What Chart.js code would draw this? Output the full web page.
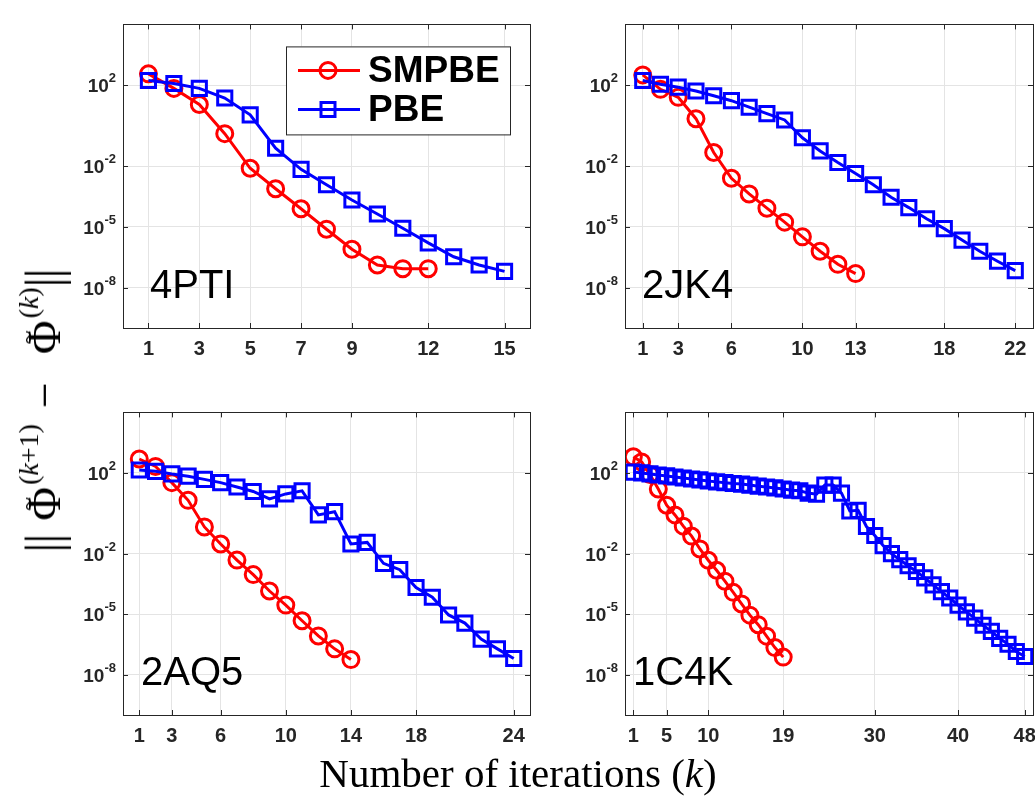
<!DOCTYPE html>
<html>
<head>
<meta charset="utf-8">
<script src="https://cdn.jsdelivr.net/npm/chart.js@4.4.1/dist/chart.umd.min.js"></script>
<style>
html, body { margin: 0; padding: 0; background: #fff; width: 1035px; height: 799px; overflow: hidden; }
canvas { position: absolute; }
#xtitle { position: absolute; left: 518px; top: 753px; transform: translateX(-50%); font: 41px "Liberation Serif", serif; line-height: 41px; white-space: nowrap; color: #000; }
#ytitle { position: absolute; left: 37px; top: 411px; transform: translate(-50%, -50%) rotate(-90deg); font: 46px "Liberation Serif", serif; line-height: 46px; white-space: nowrap; color: #000; }
#ytitle .nb { font-size: 50px; letter-spacing: -1px; }
#ytitle .phi { position: relative; display: inline-block; margin-left: 14px; }
#ytitle .tl { position: absolute; left: 0; width: 100%; text-align: center; top: -17px; font-size: 26px; }
#ytitle .sp { font-size: 28px; vertical-align: 22px; margin-left: 2px; }
#ytitle .mn { margin: 0 14px 0 16px; }
</style>
</head>
<body>
<canvas id="c4PTI"></canvas>
<canvas id="c2JK4"></canvas>
<canvas id="c2AQ5"></canvas>
<canvas id="c1C4K"></canvas>
<div id="xtitle">Number of iterations (<i>k</i>)</div>
<div id="ytitle"><span class="nb">||</span><span class="phi">Φ<span class="tl">~</span></span><span class="sp">(<i>k</i>+1)</span><span class="mn">−</span><span class="phi">Φ<span class="tl">~</span></span><span class="sp">(<i>k</i>)</span><span class="nb">||</span></div>
<script>
// y ticks shared by every panel (10^exp)
const yTicks = [1e2, 1e-2, 1e-5, 1e-8];
const yTickExp = ['2', '-2', '-5', '-8'];

// 4PTI
const ticks4PTI = [1, 3, 5, 7, 9, 12, 15];
const smpbe4PTI = [3.6e2, 6.9e1, 1.1e1, 4.0e-1, 7.8e-3, 7.6e-4, 7.8e-5, 7.6e-6, 7.8e-7, 1.3e-7, 8.5e-8, 8.5e-8];
const pbe4PTI = [1.7e2, 1.2e2, 6.9e1, 2.3e1, 3.4e0, 7.6e-2, 6.9e-3, 1.2e-3, 2.1e-4, 4.3e-5, 8.5e-6, 1.6e-6, 3.3e-7, 1.3e-7, 6.3e-8];

// 2JK4
const ticks2JK4 = [1, 3, 6, 10, 13, 18, 22];
const smpbe2JK4 = [3.2e2, 6.2e1, 2.5e1, 2.2e0, 4.7e-2, 2.5e-3, 4.2e-4, 8.3e-5, 1.7e-5, 3.2e-6, 6.2e-7, 1.4e-7, 4.9e-8];
const pbe2JK4 = [1.7e2, 1.1e2, 7.9e1, 5.1e1, 3.0e1, 1.7e1, 8.1e0, 3.9e0, 1.9e0, 2.5e-1, 5.6e-2, 1.5e-2, 4.3e-3, 1.2e-3, 2.9e-4, 8.9e-5, 2.5e-5, 8.1e-6, 2.2e-6, 6.2e-7, 2.0e-7, 6.8e-8];

// 2AQ5
const ticks2AQ5 = [1, 3, 6, 10, 14, 18, 24];
const smpbe2AQ5 = [4.9e2, 2.1e2, 3.3e1, 4.4e0, 2.1e-1, 3.0e-2, 4.8e-3, 9.1e-4, 1.4e-4, 2.8e-5, 4.7e-6, 8.3e-7, 1.9e-7, 5.6e-8];
const pbe2AQ5 = [1.4e2, 1.2e2, 8.9e1, 6.9e1, 4.8e1, 3.3e1, 2.0e1, 1.2e1, 5.2e0, 9.1e0, 1.3e1, 8.3e-1, 1.2e0, 3.0e-2, 3.6e-2, 3.3e-3, 1.6e-3, 2.1e-4, 6.9e-5, 9.1e-6, 3.6e-6, 5.8e-7, 1.9e-7, 6.3e-8];

// 1C4K
const ticks1C4K = [1, 5, 10, 19, 30, 40, 48];
const smpbe1C4K = [6.3e2, 3.5e2, 8.3e1, 1.6e1, 2.5e0, 8.3e-1, 2.3e-1, 7.4e-2, 1.7e-2, 4.7e-3, 1.5e-3, 4.3e-4, 1.2e-4, 3.2e-5, 8.9e-6, 3.0e-6, 8.1e-7, 2.2e-7, 7.4e-8];
const pbe1C4K = [1.1e2, 1.0e2, 8.9e1, 7.9e1, 7.1e1, 6.3e1, 5.6e1, 5.0e1, 4.5e1, 4.0e1,
                 3.6e1, 3.3e1, 3.0e1, 2.8e1, 2.5e1, 2.2e1, 2.0e1, 1.8e1, 1.6e1, 1.4e1,
                 1.3e1, 1.0e1, 8.9e0, 2.5e1, 2.5e1, 1.0e1, 1.3e0, 1.4e0, 2.2e-1, 7.9e-2,
                 2.5e-2, 1.0e-2, 5.0e-3, 2.5e-3, 1.3e-3, 6.3e-4, 2.8e-4, 1.3e-4, 6.3e-5, 2.8e-5,
                 1.3e-5, 6.3e-6, 2.8e-6, 1.4e-6, 6.3e-7, 3.2e-7, 1.4e-7, 7.9e-8];

const SANS = '"Liberation Sans", "DejaVu Sans", Arial, sans-serif';
const padL = 70, padT = 10, padR = 14, padB = 42;

// axes box with small inward ticks + 10^n labels, like matlab
const framePlugin = {
    id: 'frame',
    afterDatasetsDraw(chart) {
        const { ctx, chartArea: a, scales } = chart;
        ctx.save();
        ctx.strokeStyle = '#262626';
        ctx.lineWidth = 1;
        ctx.beginPath();
        scales.x.ticks.forEach(t => {
            const px = Math.round(scales.x.getPixelForValue(t.value)) + 0.5;
            ctx.moveTo(px, a.bottom); ctx.lineTo(px, a.bottom - 5);
            ctx.moveTo(px, a.top); ctx.lineTo(px, a.top + 5);
        });
        scales.y.ticks.forEach(t => {
            const py = Math.round(scales.y.getPixelForValue(t.value)) + 0.5;
            ctx.moveTo(a.left, py); ctx.lineTo(a.left + 5, py);
            ctx.moveTo(a.right, py); ctx.lineTo(a.right - 5, py);
        });
        ctx.stroke();
        ctx.strokeRect(Math.round(a.left) + 0.5, Math.round(a.top) + 0.5, Math.round(a.right - a.left), Math.round(a.bottom - a.top));

        ctx.fillStyle = '#262626';
        ctx.textBaseline = 'alphabetic';
        scales.y.ticks.forEach(t => {
            const py = scales.y.getPixelForValue(t.value);
            const exp = yTickExp[yTicks.indexOf(t.value)];
            ctx.font = 'bold 13px ' + SANS;
            const ew = ctx.measureText(exp).width;
            const ex = a.left - 7 - ew;
            ctx.fillText(exp, ex, py - 3);
            ctx.font = 'bold 19px ' + SANS;
            const bw = ctx.measureText('10').width;
            ctx.fillText('10', ex - bw, py + 7);
        });
        ctx.restore();
    }
};

function namePlugin(name, dx) {
    return {
        id: 'name',
        afterDatasetsDraw(chart) {
            const { ctx, chartArea: a } = chart;
            ctx.save();
            ctx.fillStyle = '#000';
            ctx.font = '40px ' + SANS;
            ctx.textBaseline = 'alphabetic';
            ctx.fillText(name, a.left + dx, a.bottom - 30);
            ctx.restore();
        }
    };
}

const legendPlugin = {
    id: 'boxLegend',
    afterDatasetsDraw(chart) {
        const { ctx, chartArea: a } = chart;
        const x0 = a.left + 163, y0 = a.top + 22;
        ctx.save();
        ctx.fillStyle = '#fff';
        ctx.fillRect(x0, y0, 224, 88);
        ctx.strokeStyle = '#262626';
        ctx.lineWidth = 1;
        ctx.strokeRect(x0 + 0.5, y0 + 0.5, 224, 88);
        const rows = [
            { y: y0 + 24, color: '#ff0000', text: 'SMPBE', shape: 'circle' },
            { y: y0 + 63, color: '#0000ff', text: 'PBE', shape: 'rect' }
        ];
        rows.forEach(r => {
            ctx.strokeStyle = r.color;
            ctx.lineWidth = 3;
            ctx.beginPath();
            ctx.moveTo(x0 + 12, r.y); ctx.lineTo(x0 + 74, r.y);
            ctx.stroke();
            ctx.beginPath();
            if (r.shape === 'circle') ctx.arc(x0 + 42, r.y, 8, 0, Math.PI * 2);
            else ctx.rect(x0 + 35, r.y - 7, 14, 14);
            ctx.stroke();
            ctx.fillStyle = '#000';
            ctx.font = 'bold 37px ' + SANS;
            ctx.textBaseline = 'middle';
            ctx.fillText(r.text, x0 + 82, r.y + 1);
        });
        ctx.restore();
    }
};

function buildPanel(id, area, xMax, xTicks, smpbe, pbe, name, nameDx, withLegend) {
    const cv = document.getElementById(id);
    cv.width = area.right - area.left + padL + padR;
    cv.height = area.bottom - area.top + padT + padB;
    cv.style.left = (area.left - padL) + 'px';
    cv.style.top = (area.top - padT) + 'px';

    const plugins = [framePlugin, namePlugin(name, nameDx)];
    if (withLegend) plugins.push(legendPlugin);

    new Chart(cv, {
        type: 'line',
        data: {
            datasets: [{
                label: 'SMPBE',
                data: smpbe.map((v, i) => ({ x: i + 1, y: v })),
                order: 2,
                borderColor: '#ff0000',
                borderWidth: 3,
                pointStyle: 'circle',
                pointRadius: 8,
                pointBorderWidth: 3,
                pointBorderColor: '#ff0000',
                pointBackgroundColor: 'rgba(0,0,0,0)',
                fill: false,
                tension: 0
            }, {
                label: 'PBE',
                data: pbe.map((v, i) => ({ x: i + 1, y: v })),
                order: 1,
                borderColor: '#0000ff',
                borderWidth: 3,
                pointStyle: 'rect',
                pointRadius: 10,
                pointBorderWidth: 3,
                pointBorderColor: '#0000ff',
                pointBackgroundColor: 'rgba(0,0,0,0)',
                fill: false,
                tension: 0
            }]
        },
        options: {
            responsive: false,
            animation: false,
            devicePixelRatio: 1,
            layout: { padding: { left: 0, top: padT, right: padR, bottom: 0 } },
            plugins: { legend: { display: false }, tooltip: { enabled: false } },
            scales: {
                x: {
                    type: 'linear',
                    min: 0,
                    max: xMax,
                    afterBuildTicks: s => { s.ticks = xTicks.map(v => ({ value: v })); },
                    afterFit: s => { s.height = padB; },
                    grid: { color: '#e4e4e4', drawTicks: false },
                    border: { display: false },
                    ticks: {
                        autoSkip: false, maxRotation: 0, padding: 9, color: '#262626',
                        font: { family: SANS, size: 20, weight: 'bold' },
                        callback: v => String(v)
                    }
                },
                y: {
                    type: 'logarithmic',
                    min: 1e-10,
                    max: 1e5,
                    afterBuildTicks: s => { s.ticks = yTicks.map(v => ({ value: v })); },
                    afterFit: s => { s.width = padL; },
                    grid: { color: '#e4e4e4', drawTicks: false },
                    border: { display: false },
                    ticks: {
                        autoSkip: false, padding: 8,
                        font: { family: SANS, size: 19, weight: 'bold' },
                        callback: () => ''
                    }
                }
            }
        },
        plugins: plugins
    });
}

buildPanel('c4PTI', { left: 123, top: 15, right: 530, bottom: 328 }, 16, ticks4PTI, smpbe4PTI, pbe4PTI, '4PTI', 27, true);
buildPanel('c2JK4', { left: 625, top: 15, right: 1033, bottom: 328 }, 23, ticks2JK4, smpbe2JK4, pbe2JK4, '2JK4', 17, false);
buildPanel('c2AQ5', { left: 123, top: 403, right: 530, bottom: 715 }, 25, ticks2AQ5, smpbe2AQ5, pbe2AQ5, '2AQ5', 18, false);
buildPanel('c1C4K', { left: 625, top: 403, right: 1033, bottom: 715 }, 49, ticks1C4K, smpbe1C4K, pbe1C4K, '1C4K', 8, false);
</script>
</body>
</html>
